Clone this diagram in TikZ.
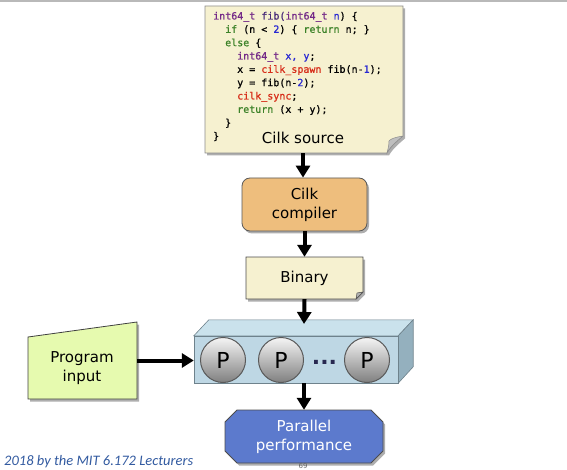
\documentclass[tikz,border=0pt]{standalone}
\usepackage{fontspec}
\setmainfont{DejaVu Sans}
\newfontfamily\codefont[FakeBold=0.8]{DejaVu Sans Mono}
\newfontfamily\footfont{Carlito}
\usetikzlibrary{arrows.meta,shadows}
\definecolor{cpurple}{RGB}{115,40,135}
\definecolor{cnavy}{RGB}{70,40,120}
\definecolor{cblue}{RGB}{40,40,210}
\definecolor{cgreen}{RGB}{60,130,40}
\definecolor{cred}{RGB}{215,45,25}
\definecolor{notefill}{RGB}{246,241,208}
\definecolor{compfill}{RGB}{238,190,125}
\definecolor{inpfill}{RGB}{230,250,175}
\definecolor{perffill}{RGB}{92,122,205}
\definecolor{boxfront}{RGB}{190,215,228}
\definecolor{boxtop}{RGB}{202,226,236}
\definecolor{boxside}{RGB}{148,176,190}
\definecolor{boxedge}{RGB}{110,130,140}
\definecolor{footblue}{RGB}{50,90,160}
\definecolor{dotcol}{RGB}{40,40,80}
\definecolor{topline}{RGB}{185,185,185}
\tikzset{
  shad/.style={drop shadow={shadow xshift=2pt,shadow yshift=-2.5pt,opacity=0.45,fill=black!70}},
  code/.style={anchor=base west,inner sep=0pt,font=\codefont\fontsize{10}{12}\selectfont},
  label/.style={font=\fontsize{15}{19}\selectfont,align=center,inner sep=0pt},
  arr/.style={line width=4pt,-{Triangle[width=14pt,length=12pt]}},
  proc/.style={circle,minimum size=45pt,inner sep=0pt,draw=black!65,line width=1pt,
    top color=black!4,bottom color=black!50,font=\fontsize{22}{22}\selectfont},
  holder/.style={draw=none,inner sep=0pt,rectangle}
}
\begin{document}
\begin{tikzpicture}[x=1pt,y=-1pt]
\useasboundingbox (0,0) rectangle (567,470);
\clip (0,0) rectangle (567,470);
\fill[topline] (0,0) rectangle (567,2.5);

% ---- Cilk source note
\path[shad,fill=notefill,draw=black!45,line width=0.6pt]
  (205,6) -- (403,6) -- (403,136) .. controls (397,141) and (390,147) .. (387,153) -- (205,153) -- cycle;
\path[fill=black!25,draw=black!45,line width=0.5pt]
  (403,136) .. controls (396,137) and (390,139) .. (389,141) .. controls (389,145) and (388,149) .. (387,153)
  .. controls (390,147) and (397,141) .. (403,136);
\node[holder,minimum width=198pt,minimum height=147pt] (src) at (304,79.5) {};
\node[code] (c1) at (213,19.5) {\textcolor{cpurple}{int64\_t} \textcolor{cnavy}{fib(}\textcolor{cpurple}{int64\_t} \textcolor{cblue}{n}) \{};
\node[code] (c2) at (225,32.8) {\textcolor{cgreen}{if} (n < \textcolor{cblue}{2}) \{ \textcolor{cgreen}{return} n; \}};
\node[code] (c3) at (225,46.2) {\textcolor{cgreen}{else} \{};
\node[code] (c4) at (237,59.5) {\textcolor{cpurple}{int64\_t} \textcolor{cblue}{x, y};};
\node[code] (c5) at (237,72.8) {x = \textcolor{cred}{cilk\_spawn} fib(n-\textcolor{cblue}{1});};
\node[code] (c6) at (237,86.2) {y = fib(n-\textcolor{cblue}{2});};
\node[code] (c7) at (237,99.5) {\textcolor{cred}{cilk\_sync};};
\node[code] (c8) at (237,112.8) {\textcolor{cgreen}{return} (x + y);};
\node[code] (c9) at (225,126.2) {\}};
\node[code] (c10) at (213,139.5) {\}};
\node[label] (srclabel) at (303,138) {Cilk source};

% ---- Cilk compiler
\node[label,shad,draw=black!65,line width=0.8pt,fill=compfill,rounded corners=8pt,
  minimum width=125pt,minimum height=53pt] (comp) at (304.5,204.5) {Cilk\\compiler};

% ---- Binary note
\path[shad,fill=notefill,draw=black!70,line width=0.7pt]
  (246,257) -- (363,257) -- (363,292) -- (356,299) -- (246,299) -- cycle;
\path[fill=black!30,draw=black!70,line width=0.5pt] (363,292) -- (357,293) -- (356,299) -- cycle;
\node[holder,label,minimum width=117pt,minimum height=42pt] (bin) at (304.5,278) {Binary};

% ---- Processor box
\node[holder,minimum width=204pt,minimum height=47pt] (cpu) at (296,359.5) {};
\path[fill=boxtop,draw=boxedge,line width=0.6pt]
  (cpu.north west) -- ++(15,-16) -- ([xshift=15pt,yshift=16pt]cpu.north east) -- (cpu.north east) -- cycle;
\path[fill=boxside,draw=boxedge,line width=0.6pt]
  (cpu.north east) -- ++(15,-16) -- ++(0,47) -- (cpu.south east) -- cycle;
\path[fill=boxfront,draw=boxedge,line width=0.6pt] (cpu.north west) rectangle (cpu.south east);
\coordinate (cputop) at (304,324);
\node[proc] (p1) at (223,360) {P};
\node[proc] (p2) at (281,360) {P};
\node[proc] (p3) at (367,360) {P};
\node[anchor=base,inner sep=0pt,text=dotcol,font=\bfseries\fontsize{22}{22}\selectfont] (dots) at (324.5,364) {...};

% ---- Program input
\path[shad,fill=inpfill,draw=black!75,line width=0.8pt]
  (28,337) -- (137,322) -- (137,399) -- (28,399) -- cycle;
\node[holder,minimum width=109pt,minimum height=77pt] (inp) at (82.5,360.5) {};
\node[label] (inplabel) at (82,368) {Program\\input};

% ---- Parallel performance
\path[shad,fill=perffill,draw=black!70,line width=0.8pt]
  (237,410) -- (371,410) -- (383,422) -- (383,451) -- (371,463) -- (237,463) -- (225,451) -- (225,422) -- cycle;
\node[holder,label,text=white,minimum width=158pt,minimum height=53pt] (perf) at (304,436.5) {Parallel\\performance};

% ---- arrows
\draw[arr] (src.south -| srclabel) -- (comp.north -| srclabel);
\draw[arr] (comp.south) -- (bin.north);
\draw[arr] (bin.south) -- (cputop);
\draw[arr] (inp.east) -- (cpu.west |- inp.east);
\draw[arr] (cpu.south -| perf.north) -- (perf.north);

% ---- footer
\node[anchor=base west,inner sep=0pt,text=footblue,font=\footfont\itshape\fontsize{14.5}{16}\selectfont] (foot) at (4,465.5) {2018 by the MIT 6.172 Lecturers};
\node[inner sep=0pt,text=black!60,font=\fontsize{7}{8}\selectfont] (pg) at (303,466) {69};
\end{tikzpicture}
\end{document}
